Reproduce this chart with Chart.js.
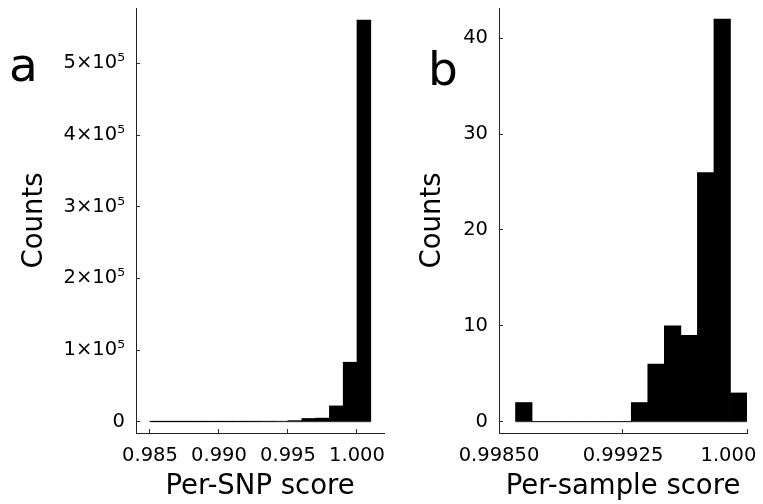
<!DOCTYPE html>
<html lang="en">
<head>
<meta charset="UTF-8">
<title>Per-SNP and per-sample score histograms</title>
<script src="https://cdn.jsdelivr.net/npm/chart.js"></script>
<style>
    body {
        margin: 0;
        background: white;
        width: 763px;
        height: 504px;
        overflow: hidden;
        position: relative;
        font-family: "DejaVu Sans", sans-serif;
    }
    .panel {
        position: absolute;
        top: 0;
    }
    .tag {
        position: absolute;
        font-size: 47px;
        line-height: 47px;
        color: #000;
    }
</style>
</head>
<body>
    <canvas id="chartA" class="panel" width="400" height="504" style="left:0"></canvas>
    <canvas id="chartB" class="panel" width="363" height="504" style="left:400px"></canvas>
    <div class="tag" style="left:9px; top:41px;">a</div>
    <div class="tag" style="left:428px; top:45px;">b</div>

<script>
    // panel a: per-SNP score, bin width 0.001
    const snpBinCenters = [0.9855, 0.9865, 0.9875, 0.9885, 0.9895, 0.9905, 0.9915, 0.9925,
                           0.9935, 0.9945, 0.9955, 0.9965, 0.9975, 0.9985, 0.9995, 1.0005];
    const snpCounts = [30, 40, 60, 80, 110, 150, 200, 300,
                       450, 700, 1500, 4500, 5000, 22000, 83000, 560500];
    const snpRange = [0.985, 1.001];
    const snpXTicks = [0.985, 0.990, 0.995, 1.000];
    const snpXLabels = ['0.985', '0.990', '0.995', '1.000'];
    const snpYTicks = [0, 100000, 200000, 300000, 400000, 500000];
    const snpYLabels = ['0', '1×10⁵', '2×10⁵', '3×10⁵', '4×10⁵', '5×10⁵'];

    // panel b: per-sample score, bin width 0.0001
    const sampleBinCenters = [0.99865, 0.99875, 0.99885, 0.99895, 0.99905, 0.99915, 0.99925,
                              0.99935, 0.99945, 0.99955, 0.99965, 0.99975, 0.99985, 0.99995];
    const sampleCounts = [2, 0, 0, 0, 0, 0, 0, 2, 6, 10, 9, 26, 42, 3];
    const sampleRange = [0.9986, 1.0000];
    const sampleXTicks = [0.99850, 0.99925, 1.000];
    // trailing spaces push the last label left so it stays inside the page
    const sampleXLabels = ['0.99850', '0.99925', '1.000\u00a0\u00a0\u00a0\u00a0\u00a0\u00a0'];
    const sampleYTicks = [0, 10, 20, 30, 40];
    const sampleYLabels = ['0', '10', '20', '30', '40'];

    const tickFont = { family: 'DejaVu Sans', size: 19.5 };
    const titleFont = { family: 'DejaVu Sans', size: 27.5 };

    function makeHistogram(canvasId, cfg) {
        const bars = cfg.centers.map((c, i) => ({ x: c, y: cfg.counts[i] }));
        const baseline = cfg.range.map(v => ({ x: v, y: 0 }));

        return new Chart(document.getElementById(canvasId), {
            type: 'bar',
            data: {
                datasets: [{
                    type: 'line',
                    data: baseline,
                    borderColor: '#444',
                    borderWidth: 1,
                    pointRadius: 0,
                    order: 2
                }, {
                    data: bars,
                    backgroundColor: '#000',
                    borderWidth: 0,
                    categoryPercentage: 1,
                    barPercentage: 1,
                    grouped: false,
                    order: 1
                }]
            },
            options: {
                responsive: false,
                animation: false,
                layout: { padding: { top: 8, right: cfg.padRight, left: 0, bottom: 0 } },
                plugins: { legend: { display: false }, tooltip: { enabled: false } },
                scales: {
                    x: {
                        type: 'linear',
                        offset: false,
                        min: cfg.xMin,
                        max: cfg.xMax,
                        afterBuildTicks: s => { s.ticks = cfg.xTicks.map(v => ({ value: v })); },
                        afterFit: s => { s.height = 71; s.paddingLeft = 0; s.paddingRight = 0; },
                        ticks: {
                            font: tickFont,
                            color: '#000',
                            padding: 15,
                            maxRotation: 0,
                            autoSkip: false,
                            callback: (v, i) => cfg.xLabels[i]
                        },
                        grid: {
                            offset: false,
                            drawOnChartArea: false,
                            drawTicks: true,
                            tickLength: -4,
                            color: '#333'
                        },
                        border: { color: '#222', width: 1 },
                        title: {
                            display: true,
                            text: cfg.xTitle,
                            font: titleFont,
                            color: '#000',
                            padding: { top: 0, bottom: 1 }
                        }
                    },
                    y: {
                        min: cfg.yMin,
                        max: cfg.yMax,
                        afterBuildTicks: s => { s.ticks = cfg.yTicks.map(v => ({ value: v })); },
                        afterFit: s => { s.width = cfg.yWidth; s.paddingTop = 0; s.paddingBottom = 0; },
                        ticks: {
                            font: tickFont,
                            color: '#000',
                            padding: 15,
                            autoSkip: false,
                            callback: (v, i) => cfg.yLabels[i]
                        },
                        grid: {
                            drawOnChartArea: false,
                            drawTicks: true,
                            tickLength: -4,
                            color: '#333'
                        },
                        border: { color: '#222', width: 1 },
                        title: {
                            display: true,
                            text: 'Counts',
                            font: titleFont,
                            color: '#000',
                            padding: { top: cfg.yTitlePad, bottom: 0 }
                        }
                    }
                }
            }
        });
    }

    makeHistogram('chartA', {
        centers: snpBinCenters, counts: snpCounts, range: snpRange,
        xTicks: snpXTicks, xLabels: snpXLabels, yTicks: snpYTicks, yLabels: snpYLabels,
        xMin: 0.983986, xMax: 1.001957, yMin: -15770, yMax: 577230,
        xTitle: 'Per-SNP score', yWidth: 136, padRight: 16, yTitlePad: 18
    });

    makeHistogram('chartB', {
        centers: sampleBinCenters, counts: sampleCounts, range: sampleRange,
        xTicks: sampleXTicks, xLabels: sampleXLabels, yTicks: sampleYTicks, yLabels: sampleYLabels,
        xMin: 0.99850, xMax: 1.0000, yMin: -1.18, yMax: 43.16,
        xTitle: 'Per-sample score', yWidth: 99, padRight: 16, yTitlePad: 16
    });
</script>
</body>
</html>
